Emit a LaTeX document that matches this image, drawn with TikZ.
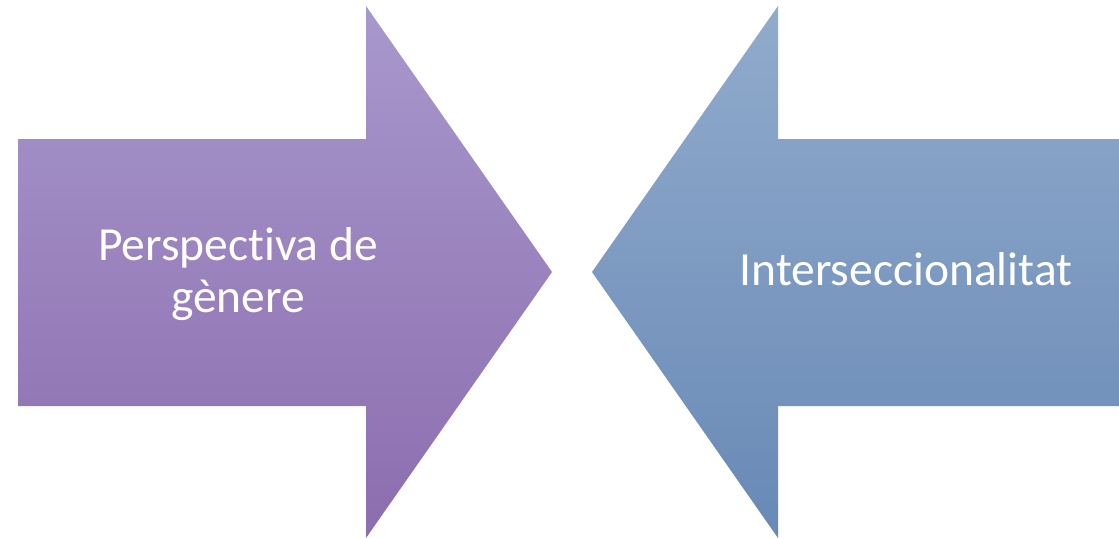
\documentclass[tikz,border=0pt]{standalone}
\usepackage{fontspec}
\setmainfont[Ligatures={NoCommon}]{Carlito}
\definecolor{ptop}{HTML}{A898CC}
\definecolor{pbot}{HTML}{8C6DAF}
\definecolor{btop}{HTML}{91ABCC}
\definecolor{bbot}{HTML}{6889B6}
\tikzset{lbl/.style={text=white, font=\fontsize{47.5}{52}\selectfont, align=center, inner sep=0pt, anchor=base}}
\begin{document}
\begin{tikzpicture}[x=1pt,y=-1pt]
\useasboundingbox (0,0) rectangle (1119,538);
\shade[top color=ptop, bottom color=pbot]
  (18,139) -- (366,139) -- (366,6) -- (552,272) -- (366,538) -- (366,406) -- (18,406) -- cycle;
\shade[top color=btop, bottom color=bbot]
  (1119,139) -- (778,139) -- (778,6) -- (592,272) -- (778,538) -- (778,406) -- (1119,406) -- cycle;
\node[lbl] (L) at (238,312) {Perspectiva de\\gènere};
\node[lbl] (R) at (906,285) {Interseccionalitat};
\end{tikzpicture}
\end{document}
